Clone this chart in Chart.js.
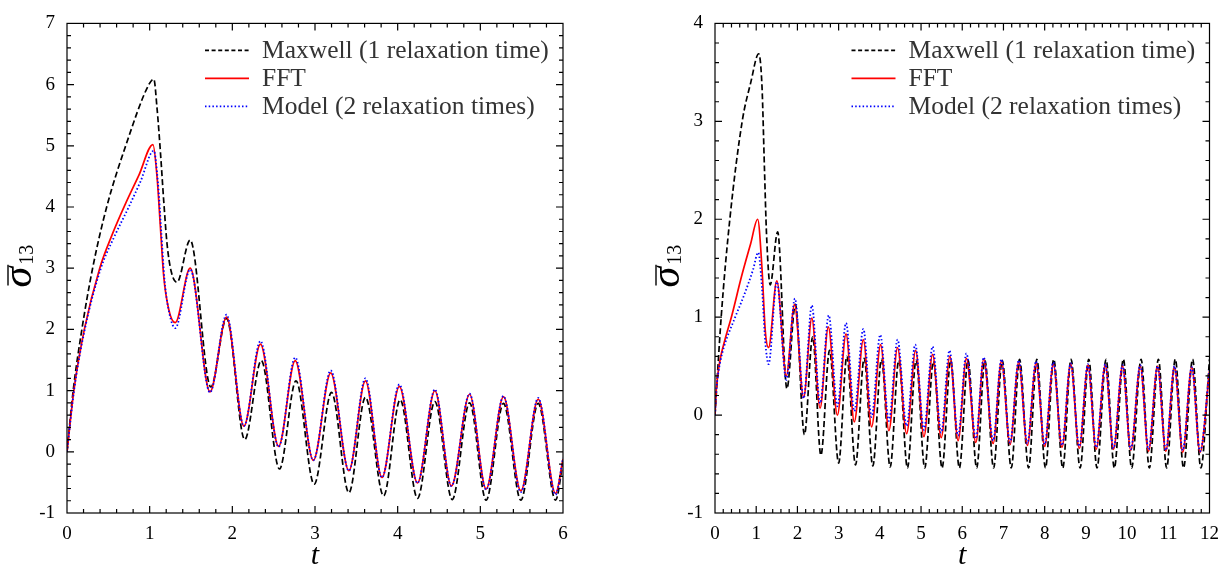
<!DOCTYPE html>
<html><head><meta charset="utf-8">
<script src="https://cdn.jsdelivr.net/npm/chart.js@4/dist/chart.umd.min.js"></script>
<style>
html,body{margin:0;padding:0;background:#fff;}
#wrap{position:relative;width:1229px;height:568px;overflow:hidden;background:#fff;}
.box{position:absolute;top:0;height:568px;}
#boxA{left:0;width:600px;}
#boxB{left:620px;width:609px;}
</style></head><body>
<div id="wrap"><div class="box" id="boxA"><canvas id="cA"></canvas></div><div class="box" id="boxB"><canvas id="cB"></canvas></div></div>
<script>
// ---------- DATA ----------
const seriesNames = ['Maxwell (1 relaxation time)', 'FFT', 'Model (2 relaxation times)'];
const xTitle = 't';
const yTitleMain = 'σ';
const yTitleSub = '13';

const leftXTicks = [0, 1, 2, 3, 4, 5, 6];
const leftYTicks = [-1, 0, 1, 2, 3, 4, 5, 6, 7];
const rightXTicks = [0, 1, 2, 3, 4, 5, 6, 7, 8, 9, 10, 11, 12];
const rightYTicks = [-1, 0, 1, 2, 3, 4];

// [t, sigma13]
const leftMaxwell = [[0,0],[0.075,1],[0.18,2],[0.31,3],[0.48,4],[0.71,5],[0.99,6],[1.05,6.09],[1.09,5.6],[1.13,4.9],[1.17,4.1],[1.21,3.4],[1.26,2.95],[1.33,2.77],[1.49,3.46],[1.74,1.06],[1.93,2.18],[2.15,0.20],[2.35,1.49],[2.57,-0.28],[2.77,1.16],[2.99,-0.53],[3.20,0.97],[3.41,-0.67],[3.61,0.89],[3.83,-0.72],[4.03,0.85],[4.24,-0.76],[4.45,0.82],[4.66,-0.78],[4.87,0.80],[5.07,-0.79],[5.28,0.79],[5.49,-0.79],[5.70,0.79],[5.91,-0.79],[6.0,-0.17]];
const leftFFT = [[0,0],[0.083,1],[0.21,2],[0.396,3],[0.55,3.56],[0.70,4.03],[0.87,4.52],[1.04,5.02],[1.09,4.48],[1.13,3.67],[1.17,2.87],[1.23,2.33],[1.31,2.11],[1.49,3.0],[1.73,0.98],[1.93,2.20],[2.14,0.42],[2.34,1.76],[2.56,0.09],[2.76,1.49],[2.98,-0.14],[3.19,1.29],[3.41,-0.31],[3.61,1.16],[3.81,-0.42],[4.02,1.07],[4.24,-0.51],[4.45,1.00],[4.65,-0.56],[4.87,0.94],[5.07,-0.61],[5.28,0.90],[5.49,-0.64],[5.70,0.86],[5.91,-0.68],[6.0,-0.12]];
const leftModel = [[0,0],[0.085,1],[0.215,2],[0.41,3],[0.56,3.48],[0.74,3.98],[0.89,4.42],[1.05,4.92],[1.10,4.4],[1.14,3.6],[1.18,2.8],[1.24,2.25],[1.31,2.02],[1.49,2.98],[1.73,0.97],[1.93,2.24],[2.14,0.42],[2.34,1.81],[2.56,0.08],[2.76,1.54],[2.98,-0.14],[3.19,1.33],[3.41,-0.31],[3.61,1.20],[3.81,-0.42],[4.02,1.10],[4.24,-0.51],[4.45,1.02],[4.65,-0.56],[4.87,0.95],[5.07,-0.62],[5.28,0.91],[5.49,-0.66],[5.70,0.88],[5.91,-0.70],[6.0,-0.10]];

// [t, sigma13]
const rightMaxwell = [[0,0],[0.15,1],[0.36,2],[0.66,3],[0.87,3.4],[1.06,3.69],[1.14,3.36],[1.20,2.52],[1.25,1.85],[1.34,1.33],[1.52,1.87],[1.745,0.27],[1.95,1.13],[2.17,-0.20],[2.37,0.80],[2.57,-0.41],[2.78,0.66],[3.00,-0.49],[3.20,0.60],[3.41,-0.51],[3.62,0.58],[3.83,-0.52],[4.04,0.57],[4.25,-0.53],[4.46,0.56],[4.67,-0.54],[4.88,0.56],[5.09,-0.54],[5.30,0.55],[5.51,-0.54],[5.72,0.56],[5.93,-0.54],[6.14,0.56],[6.35,-0.54],[6.55,0.56],[6.76,-0.54],[6.97,0.56],[7.19,-0.54],[7.39,0.57],[7.61,-0.54],[7.81,0.57],[8.02,-0.54],[8.22,0.57],[8.44,-0.54],[8.64,0.57],[8.86,-0.54],[9.07,0.57],[9.27,-0.54],[9.49,0.57],[9.69,-0.54],[9.91,0.57],[10.11,-0.54],[10.34,0.57],[10.54,-0.54],[10.76,0.57],[10.96,-0.54],[11.17,0.57],[11.37,-0.54],[11.59,0.57],[11.79,-0.54],[12.0,0.57]];
const rightFFT = [[0,0],[0.03,0.25],[0.08,0.45],[0.14,0.6],[0.235,0.76],[0.41,1.02],[0.64,1.41],[0.865,1.75],[1.035,2.0],[1.14,1.5],[1.22,0.86],[1.30,0.69],[1.50,1.37],[1.73,0.40],[1.93,1.13],[2.15,0.18],[2.35,0.99],[2.55,0.07],[2.75,0.90],[2.97,0.0],[3.18,0.83],[3.38,-0.07],[3.60,0.77],[3.80,-0.12],[4.02,0.72],[4.22,-0.16],[4.43,0.69],[4.65,-0.19],[4.87,0.66],[5.07,-0.22],[5.28,0.62],[5.49,-0.23],[5.70,0.60],[5.90,-0.26],[6.10,0.58],[6.33,-0.28],[6.52,0.57],[6.75,-0.29],[6.95,0.55],[7.16,-0.30],[7.37,0.54],[7.58,-0.31],[7.79,0.53],[8.00,-0.32],[8.21,0.52],[8.42,-0.33],[8.63,0.52],[8.84,-0.34],[9.05,0.51],[9.25,-0.35],[9.47,0.51],[9.67,-0.35],[9.89,0.50],[10.09,-0.36],[10.32,0.50],[10.52,-0.37],[10.74,0.50],[10.94,-0.37],[11.15,0.49],[11.35,-0.38],[11.57,0.49],[11.77,-0.38],[12.0,0.45]];
const rightModel = [[0,0],[0.03,0.24],[0.07,0.4],[0.13,0.55],[0.22,0.7],[0.49,1.0],[0.72,1.24],[0.92,1.48],[1.05,1.66],[1.14,1.3],[1.22,0.75],[1.30,0.52],[1.50,1.36],[1.73,0.36],[1.94,1.19],[2.15,0.17],[2.35,1.12],[2.55,0.12],[2.76,1.02],[2.97,0.09],[3.18,0.94],[3.38,0.04],[3.60,0.88],[3.80,-0.02],[4.01,0.82],[4.22,-0.06],[4.43,0.77],[4.65,-0.11],[4.86,0.72],[5.07,-0.15],[5.28,0.70],[5.49,-0.18],[5.69,0.66],[5.90,-0.21],[6.10,0.63],[6.33,-0.24],[6.52,0.59],[6.75,-0.26],[6.95,0.57],[7.16,-0.28],[7.37,0.56],[7.58,-0.29],[7.79,0.55],[8.00,-0.30],[8.21,0.54],[8.42,-0.31],[8.63,0.53],[8.84,-0.32],[9.05,0.52],[9.25,-0.33],[9.47,0.52],[9.67,-0.34],[9.89,0.51],[10.09,-0.35],[10.32,0.51],[10.52,-0.35],[10.74,0.50],[10.94,-0.36],[11.15,0.50],[11.35,-0.36],[11.57,0.49],[11.77,-0.37],[12.0,0.46]];

// ---------- STYLE / RENDER ----------
const FONT = "'Liberation Serif', 'DejaVu Serif', serif";
const lineStyles = [
  {borderColor:'#000000', borderDash:[6,3], borderWidth:1.7, order:3},
  {borderColor:'#ff0000', borderDash:[], borderWidth:1.7, order:2},
  {borderColor:'#0000ff', borderDash:[1.5,2.2], borderWidth:1.8, order:1}
];

const framePlugin = {
  id: 'frame',
  afterDatasetsDraw(chart, args, opts) {
    const ctx = chart.ctx, a = chart.chartArea, xs = chart.scales.x, ys = chart.scales.y;
    ctx.save();
    ctx.setLineDash([]);
    ctx.strokeStyle = '#000';
    ctx.lineWidth = 1.2;
    ctx.strokeRect(a.left, a.top, a.right - a.left, a.bottom - a.top);
    // inward ticks on all four sides
    ctx.beginPath();
    const xT = opts.xTicks, yT = opts.yTicks;
    const x0 = xT[0], x1 = xT[xT.length-1];
    const nx = Math.round((x1 - x0) * 5);
    for (let k = 1; k < nx; k++) {
      const px = xs.getPixelForValue(x0 + k/5);
      const L = (k % 5 === 0) ? 7 : 4;
      ctx.moveTo(px, a.bottom); ctx.lineTo(px, a.bottom - L);
      ctx.moveTo(px, a.top); ctx.lineTo(px, a.top + L);
    }
    const y0 = yT[0], y1 = yT[yT.length-1];
    const ny = Math.round((y1 - y0) * 5);
    for (let k = 1; k < ny; k++) {
      const py = ys.getPixelForValue(y0 + k/5);
      const L = (k % 5 === 0) ? 7 : 4;
      ctx.moveTo(a.left, py); ctx.lineTo(a.left + L, py);
      ctx.moveTo(a.right, py); ctx.lineTo(a.right - L, py);
    }
    ctx.stroke();

    // legend (top-right, inside)
    const rowsY = [27, 55, 83];
    chart.data.datasets.forEach((ds, i) => {
      const yy = a.top + rowsY[i];
      ctx.beginPath();
      ctx.strokeStyle = ds.borderColor;
      ctx.lineWidth = ds.borderWidth;
      ctx.setLineDash(i === 0 ? [4, 2.6] : (ds.borderDash || []));
      ctx.moveTo(a.right - 358, yy);
      ctx.lineTo(a.right - 314, yy);
      ctx.stroke();
      ctx.setLineDash([]);
      ctx.fillStyle = '#333';
      ctx.font = "25.5px " + FONT;
      ctx.textAlign = 'left';
      ctx.textBaseline = 'alphabetic';
      ctx.fillText(ds.label, a.right - 301, yy + 8);
    });

    // x title
    ctx.fillStyle = '#000';
    ctx.font = "italic 30px " + FONT;
    ctx.textAlign = 'center';
    ctx.textBaseline = 'alphabetic';
    ctx.fillText(xTitle, (a.left + a.right) / 2, 564);

    // y title: overlined sigma with subscript 13, rotated
    ctx.save();
    ctx.translate(opts.yTitleX, (a.top + a.bottom) / 2 - 2);
    ctx.rotate(-Math.PI / 2);
    const fMain = "italic 42px " + FONT, fSub = "20px " + FONT;
    ctx.font = fMain;
    const w1 = ctx.measureText(yTitleMain).width;
    ctx.font = fSub;
    const w2 = ctx.measureText(yTitleSub).width;
    const gap = 2;
    const total = w1 + gap + w2;
    const sx = -total / 2;
    const base = 9.5;
    ctx.textAlign = 'left';
    ctx.font = fMain;
    ctx.fillText(yTitleMain, sx, base);
    ctx.beginPath();
    ctx.lineWidth = 1.4;
    ctx.strokeStyle = '#000';
    ctx.moveTo(sx + 2, base - 22.5);
    ctx.lineTo(sx + w1 + 2, base - 22.5);
    ctx.stroke();
    ctx.font = fSub;
    ctx.fillText(yTitleSub, sx + w1 + gap, base + 2);
    ctx.restore();

    ctx.restore();
  }
};

function makeChart(canvasId, series, xTicks, yTicks, yAxisWidth, padRight, yTitleX) {
  const datasets = series.map((pts, i) => Object.assign({
    label: seriesNames[i],
    data: pts.map(p => ({x: p[0], y: p[1]})),
    pointRadius: 0,
    fill: false,
    cubicInterpolationMode: 'monotone',
    borderCapStyle: 'butt'
  }, lineStyles[i]));
  const tickFont = {family: FONT, size: 19};
  return new Chart(document.getElementById(canvasId), {
    type: 'line',
    data: {datasets},
    plugins: [framePlugin],
    options: {
      responsive: true,
      maintainAspectRatio: false,
      animation: false,
      layout: {padding: {left: 0, right: padRight, top: 16, bottom: 0}},
      plugins: {
        legend: {display: false},
        tooltip: {enabled: false},
        frame: {xTicks, yTicks, yTitleX}
      },
      scales: {
        x: {
          type: 'linear',
          min: xTicks[0], max: xTicks[xTicks.length-1],
          afterBuildTicks: ax => { ax.ticks = xTicks.map(v => ({value: v})); },
          afterFit: ax => { ax.height = 55; },
          grid: {display: false, drawTicks: false},
          border: {display: false},
          ticks: {font: tickFont, color: '#000', padding: 10, maxRotation: 0, autoSkip: false}
        },
        y: {
          type: 'linear',
          min: yTicks[0], max: yTicks[yTicks.length-1],
          afterBuildTicks: ax => { ax.ticks = yTicks.map(v => ({value: v})); },
          afterFit: ax => { ax.width = yAxisWidth; },
          grid: {display: false, drawTicks: false},
          border: {display: false},
          ticks: {font: tickFont, color: '#000', padding: 12, autoSkip: false}
        }
      }
    }
  });
}

makeChart('cA', [leftMaxwell, leftFFT, leftModel], leftXTicks, leftYTicks, 67, 37, 21);
makeChart('cB', [rightMaxwell, rightFFT, rightModel], rightXTicks, rightYTicks, 95, 18, 49);
</script>
</body></html>
